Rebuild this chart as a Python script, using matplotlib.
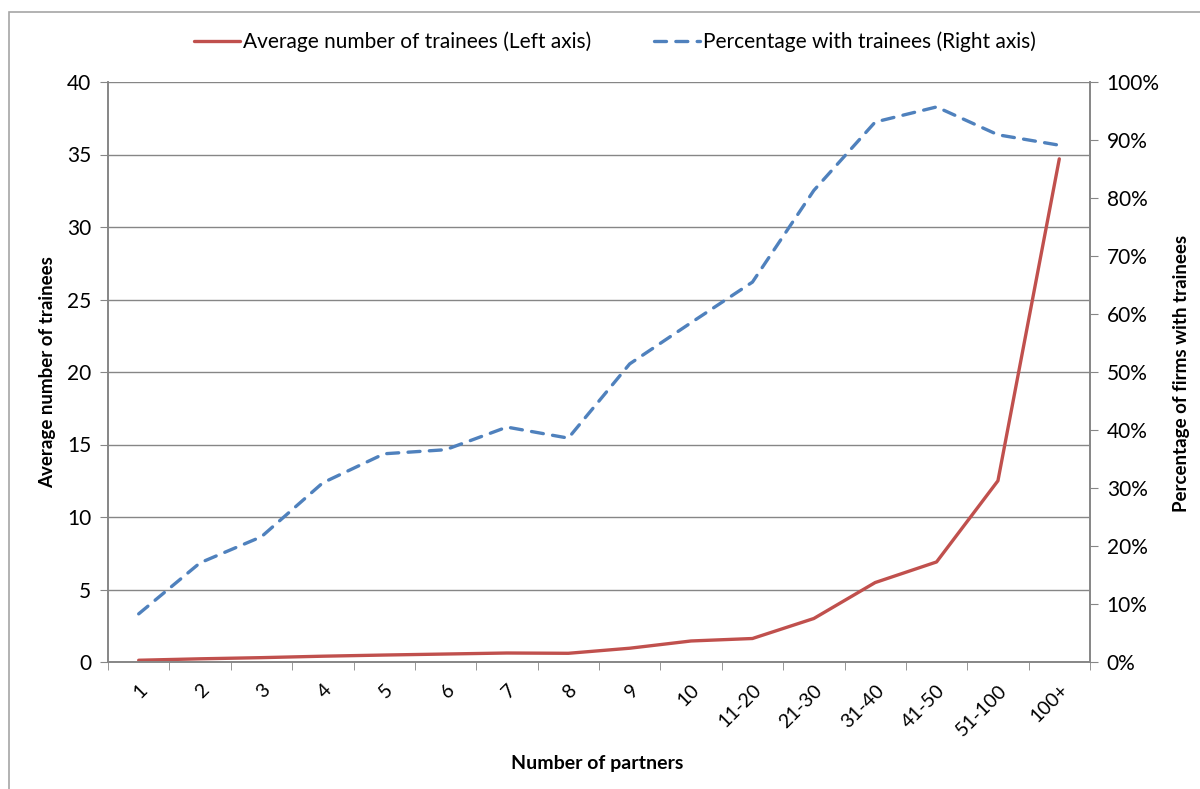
import matplotlib
matplotlib.use("Agg")
import matplotlib.pyplot as plt
from matplotlib.patches import Rectangle
from matplotlib.ticker import FuncFormatter, MultipleLocator

plt.rcParams['font.family'] = ['Lato', 'DejaVu Sans']

# data
partners = ["1", "2", "3", "4", "5", "6", "7", "8", "9", "10",
            "11-20", "21-30", "31-40", "41-50", "51-100", "100+"]
avg_trainees = [0.12, 0.22, 0.3, 0.4, 0.48, 0.55, 0.62, 0.6, 0.95, 1.45,
                1.62, 3.0, 5.48, 6.9, 12.5, 34.7]
pct_with_trainees = [8.3, 17.1, 21.6, 30.9, 35.9, 36.6, 40.5, 38.6, 51.4, 58.5,
                     65.5, 81.3, 93.1, 95.7, 90.9, 89.1]

red = "#C0504D"
blue = "#4F81BD"
spine_col = "#868686"

fig = plt.figure(figsize=(12, 7.89), dpi=100)
# outer chart border (only left and top edges fall inside the image)
fig.patches.append(Rectangle((9 / 1200, -0.1), 1.2, 1 - 12 / 789 + 0.1,
                             transform=fig.transFigure, fill=False,
                             edgecolor="#a6a6a6", linewidth=1.2))

ax = fig.add_axes([108 / 1200, 1 - 662 / 789, (1090 - 108) / 1200, (662 - 82) / 789])
ax2 = ax.twinx()

x = list(range(len(partners)))
l1, = ax.plot(x, avg_trainees, color=red, lw=2.4, solid_capstyle="round")
l2, = ax2.plot(x, pct_with_trainees, color=blue, lw=2.4, dashes=(3.6, 2.8),
               dash_capstyle="round")

ax.set_xlim(-0.5, len(partners) - 0.5)
ax.set_ylim(0, 40)
ax2.set_ylim(0, 100)
ax.yaxis.set_major_locator(MultipleLocator(5))
ax2.yaxis.set_major_locator(MultipleLocator(10))
ax2.yaxis.set_major_formatter(FuncFormatter(lambda v, p: f"{v:.0f}%"))

ax.set_xticks(x)
ax.set_xticklabels(partners, rotation=45, ha="right", va="top",
                   rotation_mode="anchor", fontsize=14)
ax.set_xticks([i - 0.5 for i in range(len(partners) + 1)], minor=True)
ax.tick_params(axis="x", which="major", length=0, pad=14)
ax.tick_params(axis="x", which="minor", length=6, color=spine_col, direction="out")

ax.grid(axis="y", color=spine_col, lw=1)
ax.set_axisbelow(True)
ax.tick_params(axis="y", length=6, color=spine_col, labelsize=15, pad=6)
ax2.tick_params(axis="y", length=6, color=spine_col, labelsize=15, pad=6)

for a in (ax, ax2):
    a.spines["top"].set_visible(False)
    for s in ("left", "right", "bottom"):
        a.spines[s].set_color(spine_col)
        a.spines[s].set_linewidth(1.2)

ax.set_ylabel("Average number of trainees", fontsize=13.5, fontweight="bold")
ax.yaxis.set_label_coords(-0.053, 0.5)
ax2.set_ylabel("Percentage of firms with trainees", fontsize=13.5, fontweight="bold")
ax2.yaxis.set_label_coords(1.085, 0.497)
ax.set_xlabel("Number of partners", fontsize=14, fontweight="bold")
ax.xaxis.set_label_coords(0.498, -0.16)

fig.legend([l1, l2], ["Average number of trainees (Left axis)",
                      "Percentage with trainees (Right axis)"],
           loc="center", bbox_to_anchor=(0.5125, 1 - 42 / 789), ncol=2, frameon=False,
           fontsize=15, handlelength=2.2, handletextpad=0.15, columnspacing=3.0)

fig.savefig("out.png", dpi=100)
